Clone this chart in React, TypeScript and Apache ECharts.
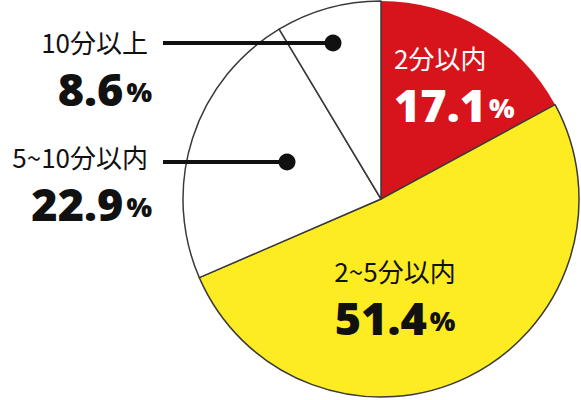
import React, { useEffect, useRef } from "react";
import * as echarts from "echarts";

const categories = ["2分以内", "2~5分以内", "5~10分以内", "10分以上"];
const values = [17.1, 51.4, 22.9, 8.6];
const sliceColors = ["#D7141C", "#FCEC21", "#FFFFFF", "#FFFFFF"];
const labelColors = ["#FFFFFF", "#111111", "#111111", "#111111"];

// label layout (positions only)
const labelPos = [
  { x: 394, y: 38, align: "left" },
  { x: 395, y: 251, align: "center" },
  { x: 152, y: 137, align: "right" },
  { x: 152, y: 22, align: "right" },
];
const callouts = [
  { y: 162, x1: 163, x2: 287 },
  { y: 43, x1: 163, x2: 333 },
];

export default function App() {
  const ref = useRef<HTMLDivElement>(null);
  useEffect(() => {
    document.body.style.margin = "0";
    const chart = echarts.init(ref.current!, null, { renderer: "svg" });
    const nameFont = '"Noto Sans CJK JP", "Noto Sans", sans-serif';
    const valueFont = '"Noto Sans", Lato, sans-serif';
    const data = categories.map((name, i) => ({
      name,
      value: values[i],
      itemStyle: {
        color: sliceColors[i],
        borderColor: i === 0 ? "transparent" : "#3a3a3a",
        borderWidth: i === 0 ? 0 : 1.5,
      },
      label: {
        color: labelColors[i],
        rich: {
          n: {
            fontFamily: nameFont,
            fontSize: 26,
            lineHeight: 38,
            color: labelColors[i],
            padding: i >= 2 ? [0, 4, 0, 0] : [0, 0, 0, 0],
          },
          v: {
            fontFamily: valueFont,
            fontWeight: 900,
            fontSize: 45,
            lineHeight: 56,
            color: labelColors[i],
          },
          p: {
            fontFamily: valueFont,
            fontWeight: 900,
            fontSize: 27,
            lineHeight: 56,
            color: labelColors[i],
            padding: [6, 0, 0, 3],
          },
        },
      },
    }));
    chart.setOption({
      animation: false,
      series: [
        {
          type: "pie",
          center: [381, 199],
          radius: 198,
          startAngle: 90,
          clockwise: true,
          data,
          label: {
            show: true,
            position: "inside",
            formatter: (p: any) => `{n|${p.name}}\n{v|${p.value}}{p|%}`,
          },
          labelLine: { show: false },
          labelLayout: (params: any) => {
            const lp = labelPos[params.dataIndex];
            return { x: lp.x, y: lp.y, align: lp.align, verticalAlign: "top" };
          },
          emphasis: { disabled: true },
        },
      ],
      graphic: callouts.flatMap((c) => [
        {
          type: "line",
          z: 100,
          shape: { x1: c.x1, y1: c.y, x2: c.x2, y2: c.y },
          style: { stroke: "#111", lineWidth: 4 },
        },
        {
          type: "circle",
          z: 100,
          shape: { cx: c.x2, cy: c.y, r: 8.5 },
          style: { fill: "#111" },
        },
      ]),
    });
    return () => chart.dispose();
  }, []);
  return <div ref={ref} style={{ width: 581, height: 400 }} />;
}
